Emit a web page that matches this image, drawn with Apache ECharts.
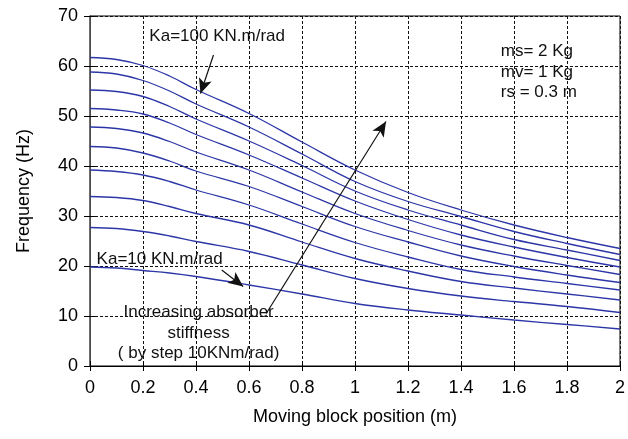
<!DOCTYPE html>
<html>
<head>
<meta charset="utf-8">
<script src="https://cdn.jsdelivr.net/npm/echarts@6/dist/echarts.min.js"></script>
<style>
  html, body { margin: 0; padding: 0; background: #fff; }
  #chart { width: 628px; height: 439px; }
</style>
</head>
<body>
<div id="chart"></div>
<script>
// moving block position (m)
var positions = [0, 0.1, 0.2, 0.3, 0.4, 0.6, 0.8, 1.0, 1.2, 1.4, 1.6, 1.8, 2.0];

// frequency (Hz) for each absorber stiffness
var freqKa100 = [61.7, 61.3, 60.1, 58.0, 55.3, 50.5, 44.8, 39.2, 34.7, 31.2, 28.2, 25.7, 23.5];
var freqKa90  = [58.8, 58.4, 57.1, 55.0, 52.4, 47.8, 42.4, 36.9, 32.9, 29.9, 26.9, 24.5, 22.3];
var freqKa80  = [55.2, 54.9, 53.9, 51.9, 49.4, 45.0, 40.1, 35.0, 31.2, 28.2, 25.3, 23.2, 21.1];
var freqKa70  = [51.5, 51.2, 50.4, 48.6, 46.3, 42.2, 37.6, 33.0, 29.3, 26.2, 23.8, 21.7, 19.8];
var freqKa60  = [47.8, 47.5, 46.6, 44.9, 42.8, 39.2, 34.8, 30.5, 27.1, 24.2, 22.0, 20.1, 18.3];
var freqKa50  = [43.9, 43.6, 42.6, 41.0, 39.0, 35.9, 31.9, 27.9, 24.8, 22.0, 19.9, 18.2, 16.7];
var freqKa40  = [39.2, 38.9, 38.2, 36.9, 35.2, 32.2, 28.4, 24.7, 21.8, 19.3, 17.8, 16.5, 15.2];
var freqKa30  = [33.9, 33.7, 33.1, 31.9, 30.5, 28.2, 24.8, 21.5, 19.0, 16.9, 15.6, 14.4, 13.2];
var freqKa20  = [27.7, 27.5, 26.9, 26.0, 24.9, 22.9, 20.2, 17.5, 15.5, 14.0, 12.9, 11.9, 10.7];
var freqKa10  = [19.8, 19.6, 19.1, 18.6, 17.9, 16.2, 14.4, 12.5, 11.2, 10.2, 9.2, 8.3, 7.4];

var curves = [freqKa100, freqKa90, freqKa80, freqKa70, freqKa60,
              freqKa50, freqKa40, freqKa30, freqKa20, freqKa10];
var curveNames = ['Ka=100', 'Ka=90', 'Ka=80', 'Ka=70', 'Ka=60',
                  'Ka=50', 'Ka=40', 'Ka=30', 'Ka=20', 'Ka=10'];

var FONT = '"Liberation Sans", Arial, sans-serif';
var lineColor = '#2c36a6';

function drawChart() {
    var chart = echarts.init(document.getElementById('chart'));

    // arrows (data coordinates)
    var arrows = [
        [{coord: [0.466, 62.2]}, {coord: [0.417, 54.5]}],
        [{coord: [0.497, 19.2]}, {coord: [0.578, 15.9]}],
        [{coord: [0.665, 10.5]}, {coord: [1.117, 48.9]}]
    ];

    var series = [];
    for (var i = 0; i < curves.length; i++) {
        var pts = [];
        for (var j = 0; j < positions.length; j++) {
            pts.push([positions[j], curves[i][j]]);
        }
        var s = {
            name: curveNames[i],
            type: 'line',
            data: pts,
            smooth: 0.4,
            showSymbol: false,
            lineStyle: { color: lineColor, width: 1.3 },
            itemStyle: { color: lineColor },
            z: 3
        };
        if (i === 0) {
            s.markLine = {
                silent: true,
                symbol: ['none', 'arrow'],
                symbolSize: [10, 15],
                label: { show: false },
                lineStyle: { color: '#111', width: 1.2, type: 'solid' },
                itemStyle: { color: '#111' },
                emphasis: { disabled: true },
                data: arrows
            };
        }
        series.push(s);
    }

    var gridDash = { show: true, lineStyle: { color: '#111', width: 1, type: [3, 2] } };

    var option = {
        animation: false,
        backgroundColor: '#fff',
        textStyle: { fontFamily: FONT },
        grid: {
            left: 90, right: 2, top: 16, bottom: 73,
            show: true, borderColor: '#000', borderWidth: 1
        },
        xAxis: [{
            type: 'value', min: 0, max: 2, interval: 0.2,
            name: 'Moving block position (m)',
            nameLocation: 'middle', nameGap: 42,
            nameTextStyle: { fontSize: 18, color: '#000', fontFamily: FONT },
            axisLine: { show: true, lineStyle: { color: '#000', width: 1 } },
            axisTick: { show: true, inside: true, length: 5, lineStyle: { color: '#000' } },
            axisLabel: {
                fontSize: 18, color: '#000', margin: 13, fontFamily: FONT,
                showMaxLabel: true, showMinLabel: true,
                formatter: function (v) { return String(+v.toFixed(1)); }
            },
            splitLine: gridDash
        }, {
            type: 'value', min: 0, max: 2, interval: 0.2, position: 'top',
            axisLine: { show: true, lineStyle: { color: '#000', width: 1 } },
            axisTick: { show: true, inside: true, length: 5, lineStyle: { color: '#000' } },
            axisLabel: { show: false },
            splitLine: { show: false }
        }],
        yAxis: [{
            type: 'value', min: 0, max: 70, interval: 10,
            name: 'Frequency (Hz)',
            nameLocation: 'middle', nameGap: 57,
            nameTextStyle: { fontSize: 18, color: '#000', fontFamily: FONT },
            axisLine: { show: true, lineStyle: { color: '#000', width: 1 } },
            axisTick: { show: true, inside: true, length: 5, lineStyle: { color: '#000' } },
            axisLabel: { fontSize: 18, color: '#000', margin: 12, fontFamily: FONT },
            splitLine: gridDash
        }, {
            type: 'value', min: 0, max: 70, interval: 10, position: 'right',
            axisLine: { show: true, lineStyle: { color: '#666', width: 1.5 } },
            axisTick: { show: true, inside: true, length: 6, lineStyle: { color: '#000' } },
            axisLabel: { show: false },
            splitLine: { show: false }
        }],
        series: series
    };

    chart.setOption(option);

    // text notes placed in data coordinates
    var notes = [
        { text: 'Ka=100 KN.m/rad', at: [0.224, 65.9], align: 'left' },
        { text: 'ms= 2 Kg\nmv= 1 Kg\nrs = 0.3 m', at: [1.55, 58.8], align: 'left' },
        { text: 'Ka=10 KN.m/rad', at: [0.025, 21.4], align: 'left' },
        { text: 'Increasing absorber\nstiffness\n( by step 10KNm/rad)', at: [0.41, 6.6], align: 'center' }
    ];
    var graphics = [];
    for (var k = 0; k < notes.length; k++) {
        var p = chart.convertToPixel({ gridIndex: 0 }, notes[k].at);
        graphics.push({
            type: 'text',
            x: p[0], y: p[1],
            silent: true,
            z: 10,
            style: {
                text: notes[k].text,
                fill: '#111',
                font: '17px ' + FONT,
                lineHeight: 20.5,
                align: notes[k].align,
                verticalAlign: 'middle'
            }
        });
    }
    chart.setOption({ graphic: graphics });

    window.onresize = function () {
        chart.resize();
    };
}

drawChart();
</script>
</body>
</html>
